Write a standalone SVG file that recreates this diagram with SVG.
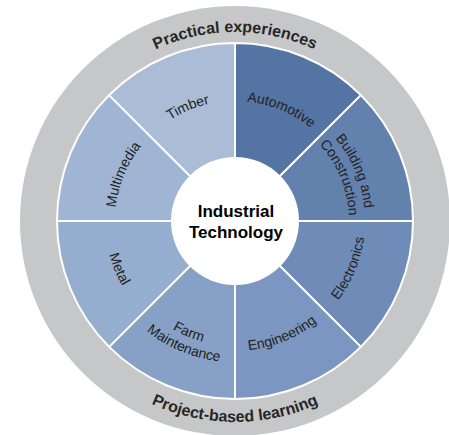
<svg xmlns="http://www.w3.org/2000/svg" xmlns:xlink="http://www.w3.org/1999/xlink" width="449" height="435" viewBox="0 0 449 435">
<style>
.wedge{stroke:#ffffff;stroke-width:2;stroke-linejoin:round}
.lbl{font-family:"Liberation Sans",Arial,sans-serif;font-size:14px;fill:#222222}
.ring{font-family:"Liberation Sans",Arial,sans-serif;font-size:16px;font-weight:bold;fill:#262626}
.hub{font-family:"Liberation Sans",Arial,sans-serif;font-size:17px;font-weight:bold;fill:#000000}
</style>
<defs>
<!-- clockwise circles starting at 0deg (right) -->
<path id="cw120" d="M355,221 A120,120 0 1 1 115,221 A120,120 0 1 1 355,221"/>
<path id="cw130" d="M365,221 A130,130 0 1 1 105,221 A130,130 0 1 1 365,221"/>
<path id="cw114" d="M349,221 A114,114 0 1 1 121,221 A114,114 0 1 1 349,221"/>
<path id="cw189" d="M424,221 A189,189 0 1 1 46,221 A189,189 0 1 1 424,221"/>
<!-- counter-clockwise circles starting at 180deg (left) -->
<path id="ccw130" d="M105,221 A130,130 0 1 0 365,221 A130,130 0 1 0 105,221"/>
<path id="ccw125" d="M110,221 A125,125 0 1 0 360,221 A125,125 0 1 0 110,221"/>
<path id="ccw141" d="M94,221 A141,141 0 1 0 376,221 A141,141 0 1 0 94,221"/>
<path id="ccw201" d="M34,221 A201,201 0 1 0 436,221 A201,201 0 1 0 34,221"/>
</defs>
<g id="outer-ring">
<circle cx="235" cy="221" r="215" fill="#c6c7c9"/>
<text class="ring" text-anchor="middle"><textPath xlink:href="#cw189" href="#cw189" startOffset="75%">Practical experiences</textPath></text>
<text class="ring" text-anchor="middle"><textPath xlink:href="#ccw201" href="#ccw201" startOffset="25%">Project-based learning</textPath></text>
</g>
<g id="automotive">
<path class="wedge" fill="#5474a3" d="M235,221 L235,43 A178,178 0 0 1 360.87,95.13 Z"/>
<text class="lbl" text-anchor="middle"><textPath xlink:href="#cw120" href="#cw120" startOffset="81.25%">Automotive</textPath></text>
</g>
<g id="building-construction">
<path class="wedge" fill="#6381ad" d="M235,221 L360.87,95.13 A178,178 0 0 1 413,221 Z"/>
<text class="lbl" text-anchor="middle"><textPath xlink:href="#cw130" href="#cw130" startOffset="93.75%">Building and</textPath></text>
<text class="lbl" text-anchor="middle"><textPath xlink:href="#cw114" href="#cw114" startOffset="93.75%">Construction</textPath></text>
</g>
<g id="electronics">
<path class="wedge" fill="#6f8bb7" d="M235,221 L413,221 A178,178 0 0 1 360.87,346.87 Z"/>
<text class="lbl" text-anchor="middle"><textPath xlink:href="#ccw130" href="#ccw130" startOffset="43.75%">Electronics</textPath></text>
</g>
<g id="engineering">
<path class="wedge" fill="#7b97c1" d="M235,221 L360.87,346.87 A178,178 0 0 1 235,399 Z"/>
<text class="lbl" text-anchor="middle"><textPath xlink:href="#ccw130" href="#ccw130" startOffset="31.25%">Engineering</textPath></text>
</g>
<g id="farm-maintenance">
<path class="wedge" fill="#87a0c5" d="M235,221 L235,399 A178,178 0 0 1 109.13,346.87 Z"/>
<text class="lbl" text-anchor="middle"><textPath xlink:href="#ccw125" href="#ccw125" startOffset="18.75%">Farm</textPath></text>
<text class="lbl" text-anchor="middle"><textPath xlink:href="#ccw141" href="#ccw141" startOffset="18.75%">Maintenance</textPath></text>
</g>
<g id="metal">
<path class="wedge" fill="#95aecf" d="M235,221 L109.13,346.87 A178,178 0 0 1 57,221 Z"/>
<text class="lbl" text-anchor="middle"><textPath xlink:href="#ccw130" href="#ccw130" startOffset="6.25%">Metal</textPath></text>
</g>
<g id="multimedia">
<path class="wedge" fill="#9fb5d3" d="M235,221 L57,221 A178,178 0 0 1 109.13,95.13 Z"/>
<text class="lbl" text-anchor="middle"><textPath xlink:href="#cw120" href="#cw120" startOffset="56.25%">Multimedia</textPath></text>
</g>
<g id="timber">
<path class="wedge" fill="#aabcd6" d="M235,221 L109.13,95.13 A178,178 0 0 1 235,43 Z"/>
<text class="lbl" text-anchor="middle"><textPath xlink:href="#cw120" href="#cw120" startOffset="68.75%">Timber</textPath></text>
</g>
<g id="industrial-technology">
<circle cx="235" cy="221" r="64" fill="#ffffff"/>
<text class="hub" x="236" y="217" text-anchor="middle">Industrial</text>
<text class="hub" x="236" y="238" text-anchor="middle">Technology</text>
</g>
</svg>
